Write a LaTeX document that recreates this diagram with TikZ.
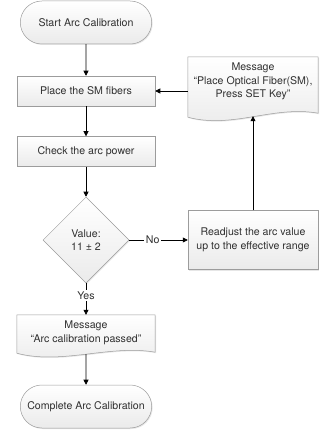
\documentclass[tikz,border=0pt]{standalone}
\usepackage{fontspec}
\setmainfont{TeX Gyre Heros}
\usepackage{tikz}
\usetikzlibrary{arrows.meta, shapes.geometric, shapes.misc, shadows, backgrounds}

\definecolor{boxline}{HTML}{9C9C9C}
\definecolor{boxtext}{HTML}{303030}

\begin{document}
\begin{tikzpicture}[x=1pt, y=-1pt,
  every node/.style={font=\fontsize{10.6}{13.5}\selectfont, text=boxtext, align=center},
  shaded/.style={draw=boxline, line width=0.5pt, top color=white, bottom color=gray!16,
    drop shadow={shadow xshift=1pt, shadow yshift=-1pt, opacity=0.2}},
  box/.style={shaded, rectangle, minimum width=138pt, minimum height=30pt},
  term/.style={shaded, rounded rectangle, minimum width=138pt, minimum height=43pt},
  decision/.style={shaded, diamond, aspect=1, inner sep=0pt, minimum width=86pt, minimum height=86pt},
  doctext/.style={rectangle, minimum width=138pt},
  docshape/.style={shaded},
  flow/.style={draw=black, line width=0.6pt, -{Triangle[length=5pt, width=5pt]}},
  tag/.style={fill=white, inner sep=1.5pt}]

\useasboundingbox (0,0) rectangle (320,430);

% Main column
\node[term] (start) at (86,22.5) {Start Arc Calibration};
\node[box] (place) at (86,91) {Place the SM fibers};
\node[box] (check) at (86,151.5) {Check the arc power};
\node[decision] (value) at (86,240) {Value:\\11 ± 2};
\node[doctext, minimum height=36pt] (passed) at (86,333) {Message\\“Arc calibration passed"};
\node[term] (done) at (86,406.5) {Complete Arc Calibration};

% Right column
\node[doctext, minimum width=130pt, minimum height=49pt] (fibermsg) at (253,81.5) {Message\\“Place Optical Fiber(SM),\\Press SET Key"};
\node[box, minimum width=130pt, minimum height=59pt] (readjust) at (253,240) {Readjust the arc value\\up to the effective range};

% Document outlines with wavy bottom
\begin{scope}[on background layer]
\path[docshape] (fibermsg.north west) -- (fibermsg.north east) -- ([yshift=-7pt]fibermsg.south east)
  .. controls +(-45,-8) and +(45,12) .. ([yshift=-11pt]fibermsg.south west) -- cycle;
\path[docshape] (passed.north west) -- (passed.north east) -- ([yshift=-1pt]passed.south east)
  .. controls +(-45,-8) and +(45,12) .. ([yshift=-2pt]passed.south west) -- cycle;
\end{scope}
\coordinate (fiberbot) at ([yshift=-10pt]fibermsg.south);
\coordinate (passedbot) at ([yshift=-3pt]passed.south);

% Connectors
\draw[flow] (start) -- (place);
\draw[flow] (fibermsg.west |- place) -- (place);
\draw[flow] (place) -- (check);
\draw[flow] (check) -- (value);
\draw[flow] (value) -- node[tag, pos=0.4] {No} (readjust);
\draw[flow] (readjust) -- (fiberbot);
\draw[flow] (value) -- node[tag, pos=0.39] {Yes} (passed);
\draw[flow] (passedbot) -- (done);

\end{tikzpicture}
\end{document}
